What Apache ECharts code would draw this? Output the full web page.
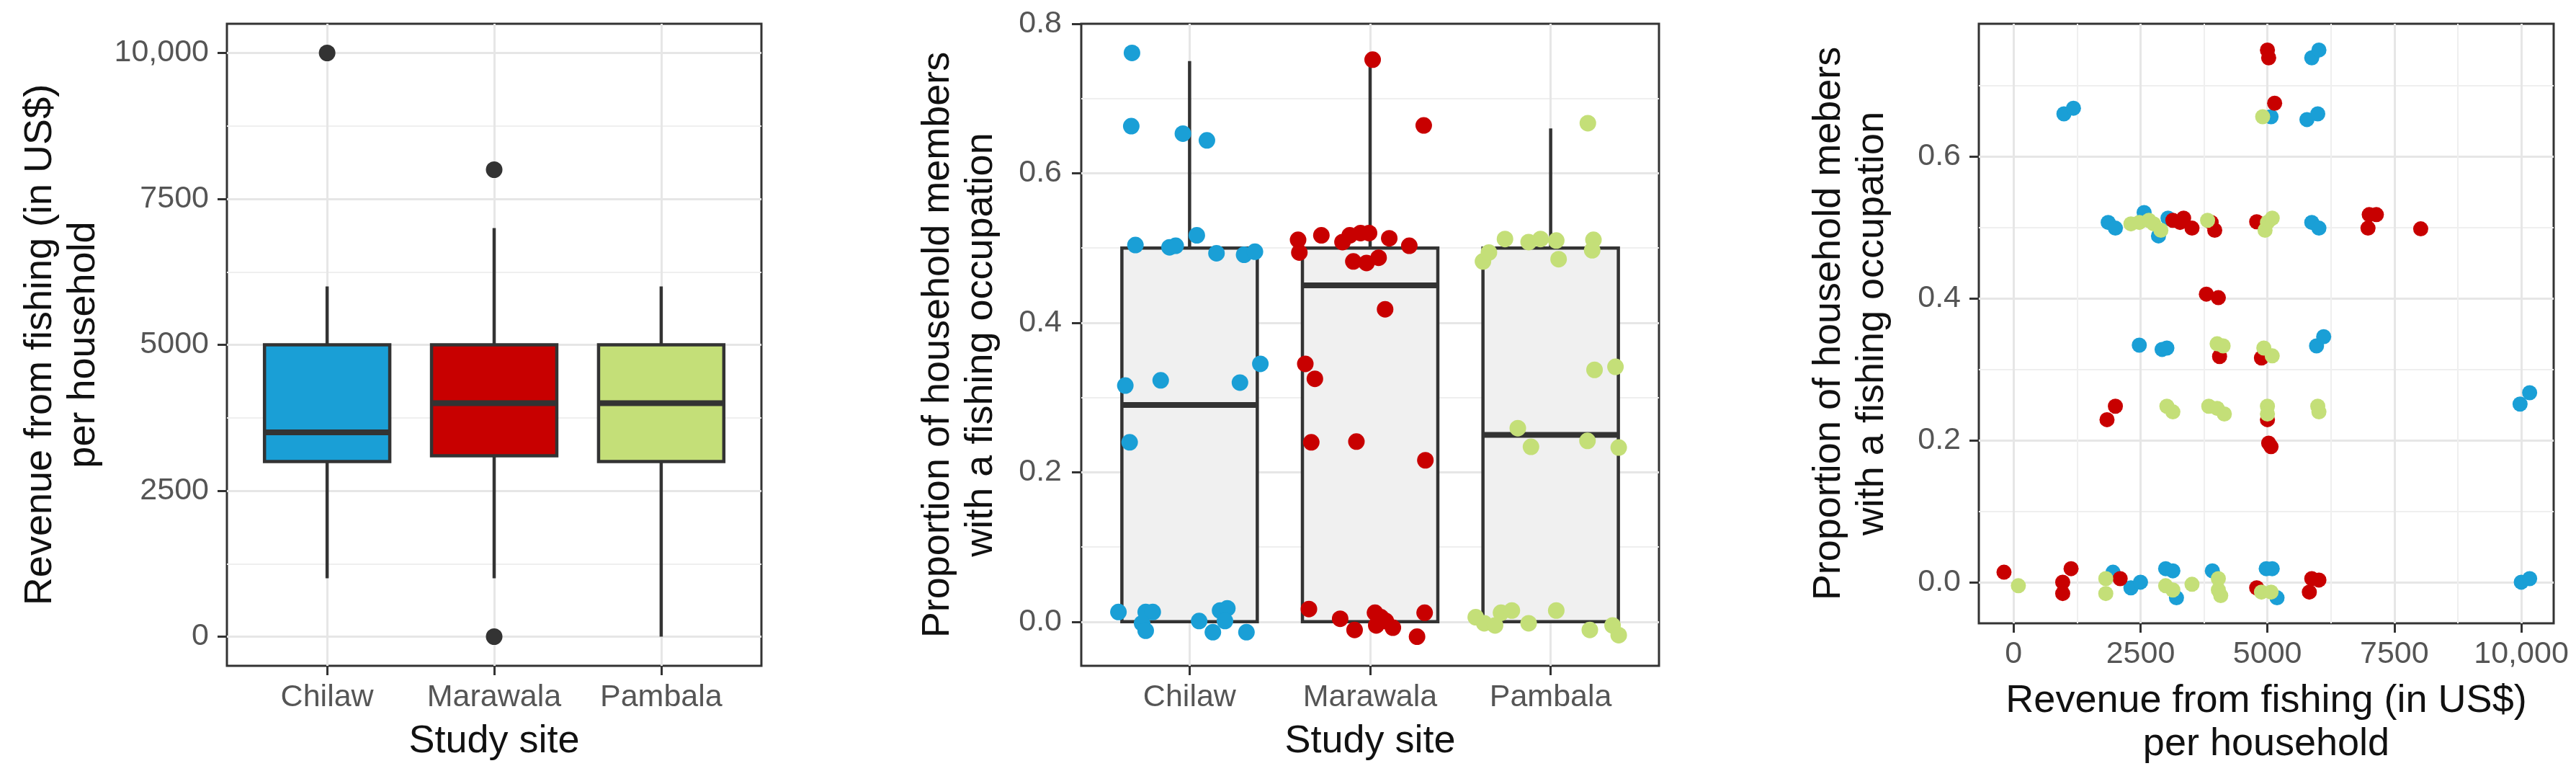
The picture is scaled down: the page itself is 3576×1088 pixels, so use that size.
<!DOCTYPE html>
<html>
<head>
    <meta charset="utf-8">
    <title>Fishing revenue and household members by study site</title>
    <script src="https://cdn.jsdelivr.net/npm/echarts@6/dist/echarts.min.js"></script>
    <style>
        body { margin: 0; background: #fff; }
    </style>
</head>
<body>
    <div id="myChart" style="width: 3576px;height:1088px;"></div>
    <script>
        // study sites (x categories of the two box plots)
        const sites = ['Chilaw', 'Marawala', 'Pambala'];

        // panel 1: revenue box stats [low whisker, Q1, median, Q3, high whisker]
        const revenueStats = [
            [1000, 3000, 3500, 5000, 6000],
            [1000, 3100, 4000, 5000, 7000],
            [0, 3000, 4000, 5000, 6000]
        ];
        // outliers [site position, revenue]
        const revenueOutliers = [[1, 10000], [2, 8000], [2, 0]];

        // panel 2: share of members fishing, box stats
        const shareStats = [
            [0, 0, 0.29, 0.5, 0.75],
            [0, 0, 0.45, 0.5, 0.75],
            [0, 0, 0.25, 0.5, 0.66]
        ];
        // jittered points [site position + jitter, share]
        const shareChilaw = [
            [0.681, 0.761], [0.677, 0.663], [0.963, 0.653], [1.096, 0.644],
            [0.700, 0.504], [0.889, 0.501], [0.923, 0.503], [1.040, 0.517], [1.149, 0.493], [1.302, 0.491], [1.362, 0.495],
            [0.644, 0.316], [0.840, 0.323], [1.279, 0.320], [1.392, 0.345], [0.668, 0.240],
            [0.606, 0.013], [0.757, 0.013], [0.796, 0.013], [0.737, -0.002], [0.757, -0.012],
            [1.053, 0.001], [1.129, -0.014], [1.169, 0.015], [1.209, 0.018], [1.196, 0.001], [1.315, -0.014]
        ];
        const shareMarawala = [
            [2.014, 0.752], [2.297, 0.664],
            [1.601, 0.511], [1.608, 0.494], [1.730, 0.517], [1.847, 0.508], [1.887, 0.517], [1.947, 0.520], [1.994, 0.520],
            [1.907, 0.482], [1.980, 0.480], [2.047, 0.487], [2.106, 0.513], [2.217, 0.503],
            [2.083, 0.418], [1.641, 0.345], [1.694, 0.325], [1.674, 0.240], [1.924, 0.241], [2.306, 0.216],
            [1.661, 0.017], [1.834, 0.004], [1.914, -0.011], [2.027, 0.012], [2.060, 0.006], [2.034, -0.005],
            [2.087, 0.001], [2.126, -0.008], [2.260, -0.020], [2.302, 0.012]
        ];
        const sharePambala = [
            [3.206, 0.667],
            [2.625, 0.482], [2.658, 0.494], [2.747, 0.512], [2.878, 0.508], [2.944, 0.512], [3.031, 0.510], [3.044, 0.485],
            [3.237, 0.511], [3.230, 0.497],
            [3.243, 0.337], [3.359, 0.341], [2.818, 0.259], [2.891, 0.234], [3.204, 0.242], [3.377, 0.233],
            [2.585, 0.006], [2.632, -0.002], [2.692, -0.005], [2.725, 0.012], [2.785, 0.015], [2.878, -0.002],
            [3.031, 0.015], [3.217, -0.011], [3.343, -0.005], [3.377, -0.018]
        ];

        // panel 3: revenue vs share (jittered) [revenue, share]
        const scatterChilaw = [
            [991, 0.660], [1179, 0.668], [5071, 0.656], [5778, 0.652], [5991, 0.660], [5873, 0.739], [6014, 0.750],
            [1863, 0.507], [2005, 0.499], [2571, 0.521], [2854, 0.488], [3042, 0.513], [5873, 0.507], [6014, 0.499],
            [2476, 0.334], [2925, 0.328], [3019, 0.330], [5967, 0.333], [6108, 0.346],
            [9976, 0.251], [10165, 0.267],
            [1958, 0.014], [2311, -0.008], [2500, 0.000], [2995, 0.019], [3137, 0.016], [3208, -0.022], [3915, 0.016],
            [4976, 0.019], [5094, 0.019], [5189, -0.022], [10000, 0.000], [10165, 0.005]
        ];
        const scatterMarawala = [
            [5000, 0.750], [5024, 0.739], [5142, 0.675],
            [3137, 0.510], [3278, 0.507], [3349, 0.513], [3514, 0.499], [3892, 0.507], [3962, 0.496], [4788, 0.508],
            [7005, 0.518], [7146, 0.518], [6981, 0.499], [8019, 0.498],
            [3797, 0.406], [4033, 0.401], [4057, 0.318], [4882, 0.316],
            [1840, 0.229], [2005, 0.248], [5000, 0.229], [5024, 0.196], [5071, 0.191],
            [-189, 0.014], [1132, 0.019], [967, 0.000], [967, -0.016], [2099, 0.005], [4788, -0.008],
            [5873, 0.005], [6014, 0.003], [5825, -0.014]
        ];
        const scatterPambala = [
            [4906, 0.656],
            [2311, 0.505], [2476, 0.507], [2665, 0.510], [2759, 0.505], [2901, 0.496], [3821, 0.510],
            [5000, 0.507], [5094, 0.513], [4953, 0.496],
            [4009, 0.336], [4127, 0.333], [4929, 0.330], [5094, 0.319],
            [3019, 0.248], [3137, 0.240], [3844, 0.248], [4009, 0.245], [4151, 0.237], [5000, 0.248], [5000, 0.237],
            [5991, 0.248], [6014, 0.240],
            [94, -0.005], [1816, 0.005], [1816, -0.016], [2995, -0.005], [3137, -0.011], [3514, -0.003],
            [4033, 0.005], [4033, -0.011], [4080, -0.019], [4882, -0.014], [5071, -0.014]
        ];

        // tick labels / gridlines
        const sitePositions = [1, 2, 3];
        const revenueTicks = [0, 2500, 5000, 7500, 10000];
        const revenueMinor = [1250, 3750, 6250, 8750];
        const shareTicks = [0, 0.2, 0.4, 0.6, 0.8];
        const shareGrid = [0, 0.2, 0.4, 0.6];
        const shareMinor = [0.1, 0.3, 0.5, 0.7];

        const FONT = 'Liberation Sans, Arial, sans-serif';
        const colors = ['#1a9fd6', '#c80000', '#c4df78'];
        const ink = '#333333';

        var myChart = echarts.init(document.getElementById('myChart'));

        function fmtRevenue(v) {
            return v >= 10000 ? v.toLocaleString('en-US') : String(v);
        }

        function visibleAxis(gridIndex, min, max, ticks, formatter, name, nameGap, margin) {
            return {
                type: 'value',
                gridIndex: gridIndex,
                min: min,
                max: max,
                name: name,
                nameLocation: 'middle',
                nameGap: nameGap,
                nameTextStyle: { fontFamily: FONT, fontSize: 54, color: '#111', lineHeight: 60, align: 'center' },
                axisLine: { show: false, onZero: false },
                axisTick: { show: true, customValues: ticks, length: 13, lineStyle: { color: ink, width: 3 } },
                axisLabel: {
                    customValues: ticks, formatter: formatter, margin: margin,
                    fontFamily: FONT, fontSize: 43, color: '#555'
                },
                splitLine: { show: false },
                minorTick: { show: false },
                minorSplitLine: { show: false }
            };
        }

        function gridlineAxis(gridIndex, min, max, values, width, color) {
            return {
                type: 'value',
                gridIndex: gridIndex,
                min: min,
                max: max,
                axisLine: { show: false, onZero: false },
                axisTick: { show: false, customValues: values },
                axisLabel: { show: false, customValues: values },
                splitLine: { show: true, lineStyle: { color: color, width: width } }
            };
        }

        function boxSeries(stats, fills, xi, yi) {
            return {
                type: 'custom',
                xAxisIndex: xi,
                yAxisIndex: yi,
                z: 2,
                encode: { x: 0, y: [1, 2, 3, 4, 5] },
                data: stats.map((s, i) => [sitePositions[i]].concat(s)),
                renderItem: function (params, api) {
                    const x = api.value(0);
                    const half = api.size([0.75, 0])[0] / 2;
                    const lo = api.coord([x, api.value(1)]);
                    const q1 = api.coord([x, api.value(2)]);
                    const md = api.coord([x, api.value(3)]);
                    const q3 = api.coord([x, api.value(4)]);
                    const hi = api.coord([x, api.value(5)]);
                    const line = { stroke: ink, lineWidth: 4.5 };
                    return {
                        type: 'group',
                        children: [
                            { type: 'line', shape: { x1: hi[0], y1: hi[1], x2: q3[0], y2: q3[1] }, style: line },
                            { type: 'line', shape: { x1: q1[0], y1: q1[1], x2: lo[0], y2: lo[1] }, style: line },
                            {
                                type: 'rect',
                                shape: { x: q3[0] - half, y: q3[1], width: half * 2, height: q1[1] - q3[1] },
                                style: { fill: fills[params.dataIndex], stroke: ink, lineWidth: 4.5 }
                            },
                            { type: 'line', shape: { x1: md[0] - half, y1: md[1], x2: md[0] + half, y2: md[1] }, style: { stroke: ink, lineWidth: 8 } }
                        ]
                    };
                }
            };
        }

        function dots(data, color, xi, yi, size) {
            return {
                type: 'scatter',
                xAxisIndex: xi,
                yAxisIndex: yi,
                z: 3,
                symbol: 'circle',
                symbolSize: size,
                itemStyle: { color: color, opacity: 1 },
                emphasis: { disabled: true },
                data: data
            };
        }

        const siteFmt = v => sites[v - 1];
        const shareFmt = v => v.toFixed(1);

        var option = {
            animation: false,
            backgroundColor: '#fff',
            grid: [
                { left: 315, top: 33, width: 742, height: 891, show: true, borderColor: ink, borderWidth: 3, backgroundColor: 'transparent' },
                { left: 1501, top: 33, width: 802, height: 891, show: true, borderColor: ink, borderWidth: 3, backgroundColor: 'transparent' },
                { left: 2747, top: 33, width: 798, height: 832, show: true, borderColor: ink, borderWidth: 3, backgroundColor: 'transparent' }
            ],
            xAxis: [
                visibleAxis(0, 0.4, 3.6, sitePositions, siteFmt, 'Study site', 75, 23),
                visibleAxis(1, 0.4, 3.6, sitePositions, siteFmt, 'Study site', 75, 23),
                visibleAxis(2, -685, 10638, revenueTicks, fmtRevenue, 'Revenue from fishing (in US$)\nper household', 78, 22),
                gridlineAxis(0, 0.4, 3.6, sitePositions, 3, '#e6e6e6'),
                gridlineAxis(1, 0.4, 3.6, sitePositions, 3, '#e6e6e6'),
                gridlineAxis(2, -685, 10638, revenueTicks, 3, '#e6e6e6'),
                gridlineAxis(2, -685, 10638, revenueMinor, 2, '#efefef')
            ],
            yAxis: [
                visibleAxis(0, -500, 10500, revenueTicks, fmtRevenue, 'Revenue from fishing (in US$)\nper household', 169, 25),
                visibleAxis(1, -0.059, 0.8, shareTicks, shareFmt, 'Proportion of household members\nwith a fishing occupation', 109, 27),
                visibleAxis(2, -0.058, 0.787, shareGrid, shareFmt, 'Proportion of household mebers\nwith a fishing occupation', 118, 25),
                gridlineAxis(0, -500, 10500, revenueTicks, 3, '#e6e6e6'),
                gridlineAxis(0, -500, 10500, revenueMinor, 2, '#efefef'),
                gridlineAxis(1, -0.059, 0.8, shareGrid, 3, '#e6e6e6'),
                gridlineAxis(1, -0.059, 0.8, shareMinor, 2, '#efefef'),
                gridlineAxis(2, -0.058, 0.787, shareGrid, 3, '#e6e6e6'),
                gridlineAxis(2, -0.058, 0.787, shareMinor, 2, '#efefef')
            ],
            series: [
                boxSeries(revenueStats, colors, 0, 0),
                dots(revenueOutliers, ink, 0, 0, 23),
                boxSeries(shareStats, ['#f0f0f0', '#f0f0f0', '#f0f0f0'], 1, 1),
                dots(shareChilaw, colors[0], 1, 1, 23),
                dots(shareMarawala, colors[1], 1, 1, 23),
                dots(sharePambala, colors[2], 1, 1, 23),
                dots(scatterChilaw, colors[0], 2, 2, 21),
                dots(scatterMarawala, colors[1], 2, 2, 21),
                dots(scatterPambala, colors[2], 2, 2, 21)
            ]
        };
        myChart.setOption(option);
    </script>
</body>
</html>
